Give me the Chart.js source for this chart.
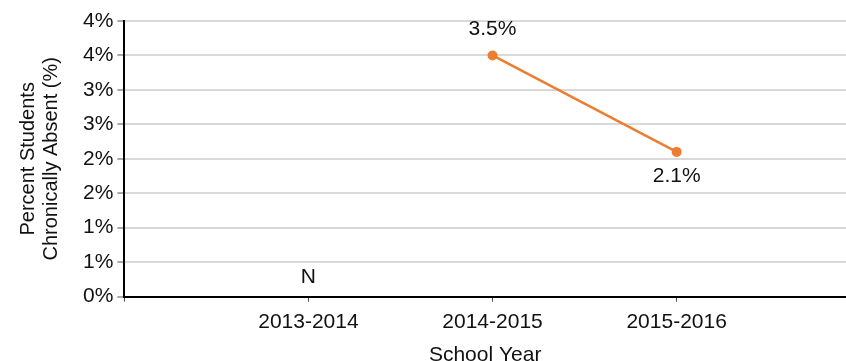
<!DOCTYPE html>
<html>
<head>
<meta charset="utf-8">
<script src="https://cdn.jsdelivr.net/npm/chart.js@4/dist/chart.umd.min.js"></script>
<style>
  html, body { margin: 0; padding: 0; background: #fff; }
  #wrap { width: 846px; height: 361px; }
</style>
</head>
<body>
<div id="wrap"><canvas id="absentChart"></canvas></div>
<script>
// school years and percent chronically absent (null = no data)
const years = ['2013-2014', '2014-2015', '2015-2016'];
const absentPct = [null, 3.5, 2.1];
const missingText = 'N';

const orange = '#ED7D31';
const font = 'Liberation Sans, Arial, sans-serif';
const xMax = 3.92;

// x positions 1..n so the axis can leave room on both sides
const points = years.map((y, i) => ({ x: i + 1, y: absentPct[i] }));

// writes the value (or N) next to each point
const valueLabels = {
  id: 'valueLabels',
  afterDatasetsDraw(chart) {
    const ctx = chart.ctx;
    const meta = chart.getDatasetMeta(0);
    const yScale = chart.scales.y;
    const xScale = chart.scales.x;
    ctx.save();
    ctx.font = '21px ' + font;
    ctx.fillStyle = '#111';
    ctx.textAlign = 'center';
    ctx.textBaseline = 'middle';
    absentPct.forEach((v, i) => {
      const x = xScale.getPixelForValue(i + 1);
      if (v === null) {
        ctx.fillText(missingText, x, yScale.getPixelForValue(0) - 19);
        return;
      }
      const pt = meta.data[i];
      const prev = absentPct[i - 1];
      const below = prev !== null && prev !== undefined && prev > v;
      ctx.fillText(v.toFixed(1) + '%', pt.x, below ? pt.y + 24 : pt.y - 26);
    });
    ctx.restore();
  }
};

new Chart(document.getElementById('absentChart'), {
  type: 'line',
  data: {
    datasets: [{
      data: points,
      borderColor: orange,
      backgroundColor: orange,
      borderWidth: 2.5,
      pointRadius: 5,
      pointBackgroundColor: orange,
      pointBorderWidth: 0,
      spanGaps: false,
      tension: 0
    }]
  },
  options: {
    responsive: true,
    maintainAspectRatio: false,
    animation: false,
    layout: { autoPadding: false, padding: { top: 21, right: 0, bottom: -7, left: 17 } },
    plugins: {
      legend: { display: false },
      tooltip: { enabled: false }
    },
    scales: {
      x: {
        type: 'linear',
        min: 0,
        max: xMax,
        afterBuildTicks(scale) {
          // one tick per school year, plus blank ones at both ends
          scale.ticks = [0, 1, 2, 3, xMax].map(v => ({ value: v }));
        },
        afterFit(scale) {
          // let the grid run to the right edge
          scale.paddingRight = 0;
        },
        ticks: {
          color: '#111',
          font: { family: font, size: 21 },
          padding: 8,
          maxRotation: 0,
          autoSkip: false,
          callback: v => years[v - 1] || ''
        },
        grid: {
          drawOnChartArea: false,
          tickLength: 5,
          tickColor: c => (c.tick && c.tick.value === xMax ? 'rgba(0,0,0,0)' : '#444'),
          tickWidth: 1
        },
        border: { color: '#000', width: 2 },
        title: {
          display: true,
          text: 'School Year',
          color: '#111',
          font: { family: font, size: 21 },
          padding: { top: 0, bottom: 0 }
        }
      },
      y: {
        min: 0,
        max: 4,
        ticks: {
          stepSize: 0.5,
          color: '#111',
          font: { family: font, size: 21 },
          padding: 4,
          callback: v => Math.round(v) + '%'
        },
        grid: {
          color: '#d9d9d9',
          lineWidth: 2,
          tickLength: 7,
          tickColor: '#555',
          tickWidth: 1
        },
        border: { color: '#000', width: 2 },
        title: {
          display: true,
          text: ['Percent Students', 'Chronically Absent (%)'],
          color: '#111',
          font: { family: font, size: 20, lineHeight: 1.15 },
          padding: { top: 0, bottom: 16 }
        }
      }
    }
  },
  plugins: [valueLabels]
});
</script>
</body>
</html>
